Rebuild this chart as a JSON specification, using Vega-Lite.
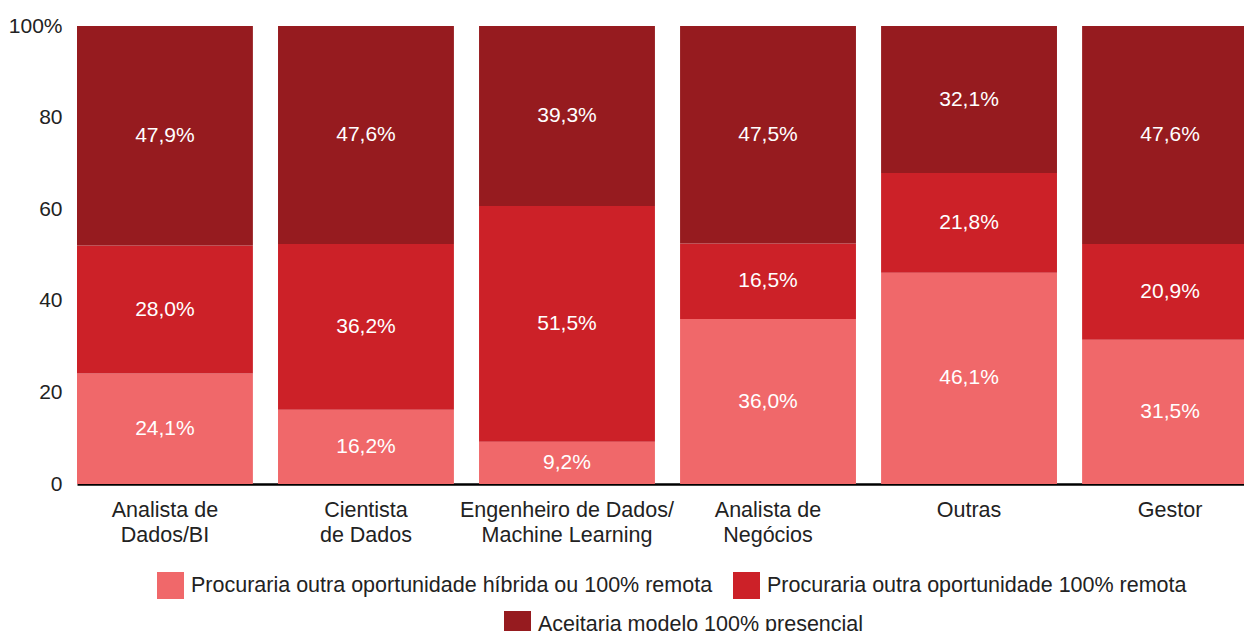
{
  "$schema": "https://vega.github.io/schema/vega-lite/v6.json",
  "width": 1167,
  "height": 458,
  "autosize": {"type": "none"},
  "padding": {"left": 77, "top": 26, "right": 0, "bottom": 147},
  "background": "white",
  "config": {
    "view": {"stroke": null},
    "font": "Liberation Sans"
  },
  "data": {
    "values": [
      {"cargo": "Analista de\nDados/BI", "serie": "Procuraria outra oportunidade híbrida ou 100% remota", "v": 24.1},
      {"cargo": "Analista de\nDados/BI", "serie": "Procuraria outra oportunidade 100% remota", "v": 28.0},
      {"cargo": "Analista de\nDados/BI", "serie": "Aceitaria modelo 100% presencial", "v": 47.9},
      {"cargo": "Cientista\nde Dados", "serie": "Procuraria outra oportunidade híbrida ou 100% remota", "v": 16.2},
      {"cargo": "Cientista\nde Dados", "serie": "Procuraria outra oportunidade 100% remota", "v": 36.2},
      {"cargo": "Cientista\nde Dados", "serie": "Aceitaria modelo 100% presencial", "v": 47.6},
      {"cargo": "Engenheiro de Dados/\nMachine Learning", "serie": "Procuraria outra oportunidade híbrida ou 100% remota", "v": 9.2},
      {"cargo": "Engenheiro de Dados/\nMachine Learning", "serie": "Procuraria outra oportunidade 100% remota", "v": 51.5},
      {"cargo": "Engenheiro de Dados/\nMachine Learning", "serie": "Aceitaria modelo 100% presencial", "v": 39.3},
      {"cargo": "Analista de\nNegócios", "serie": "Procuraria outra oportunidade híbrida ou 100% remota", "v": 36.0},
      {"cargo": "Analista de\nNegócios", "serie": "Procuraria outra oportunidade 100% remota", "v": 16.5},
      {"cargo": "Analista de\nNegócios", "serie": "Aceitaria modelo 100% presencial", "v": 47.5},
      {"cargo": "Outras", "serie": "Procuraria outra oportunidade híbrida ou 100% remota", "v": 46.1},
      {"cargo": "Outras", "serie": "Procuraria outra oportunidade 100% remota", "v": 21.8},
      {"cargo": "Outras", "serie": "Aceitaria modelo 100% presencial", "v": 32.1},
      {"cargo": "Gestor", "serie": "Procuraria outra oportunidade híbrida ou 100% remota", "v": 31.5},
      {"cargo": "Gestor", "serie": "Procuraria outra oportunidade 100% remota", "v": 20.9},
      {"cargo": "Gestor", "serie": "Aceitaria modelo 100% presencial", "v": 47.6}
    ]
  },
  "transform": [
    {"stack": "v", "groupby": ["cargo"], "sort": [{"field": "serie", "order": "descending"}], "as": ["y0", "y1"]},
    {"calculate": "(datum.y0 + datum.y1) / 2", "as": "ymid"},
    {"calculate": "replace(format(datum.v, '.1f'), '.', ',') + '%'", "as": "rotulo"}
  ],
  "encoding": {
    "x": {
      "field": "cargo",
      "type": "nominal",
      "sort": ["Analista de\nDados/BI", "Cientista\nde Dados", "Engenheiro de Dados/\nMachine Learning", "Analista de\nNegócios", "Outras", "Gestor"],
      "scale": {"range": [0, 1181], "paddingInner": 0.125, "paddingOuter": 0},
      "axis": {
        "title": null,
        "labelAngle": 0,
        "ticks": false,
        "domainColor": "#000000",
        "domainWidth": 2.5,
        "labelFontSize": 21.5,
        "labelColor": "#222222",
        "labelPadding": 15,
        "labelLineHeight": 25,
        "labelLimit": 400,
        "labelExpr": "split(datum.value, '\\n')"
      }
    }
  },
  "layer": [
    {
      "transform": [{"filter": "datum.serie != 'Aceitaria modelo 100% presencial'"}],
      "mark": "bar",
      "encoding": {
        "y": {
          "field": "y0",
          "type": "quantitative",
          "scale": {"domain": [0, 100]},
          "axis": {
            "title": null,
            "values": [0, 20, 40, 60, 80, 100],
            "labelExpr": "datum.value == 100 ? '100%' : datum.label",
            "domain": false,
            "ticks": false,
            "grid": false,
            "labelFontSize": 21,
            "labelColor": "#222222",
            "labelPadding": 15
          }
        },
        "y2": {"field": "y1"},
        "color": {
          "field": "serie",
          "type": "nominal",
          "scale": {
            "domain": ["Procuraria outra oportunidade híbrida ou 100% remota", "Procuraria outra oportunidade 100% remota"],
            "range": ["#F0686A", "#CC2128"]
          },
          "legend": {
            "orient": "none",
            "legendX": 80,
            "legendY": 546,
            "direction": "horizontal",
            "title": null,
            "symbolType": "square",
            "symbolSize": 729,
            "symbolStrokeWidth": 0,
            "labelFontSize": 21.5,
            "labelColor": "#222222",
            "labelOffset": 7,
            "columnPadding": 20,
            "labelLimit": 600
          }
        }
      }
    },
    {
      "transform": [{"filter": "datum.serie == 'Aceitaria modelo 100% presencial'"}],
      "mark": "bar",
      "encoding": {
        "y": {"field": "y0", "type": "quantitative"},
        "y2": {"field": "y1"},
        "color": {
          "field": "serie",
          "type": "nominal",
          "scale": {"domain": ["Aceitaria modelo 100% presencial"], "range": ["#961B1F"]},
          "legend": {
            "orient": "none",
            "legendX": 427,
            "legendY": 585,
            "direction": "horizontal",
            "title": null,
            "symbolType": "square",
            "symbolSize": 729,
            "symbolStrokeWidth": 0,
            "labelFontSize": 21.5,
            "labelColor": "#222222",
            "labelOffset": 7,
            "labelLimit": 600
          }
        }
      }
    },
    {
      "mark": {"type": "text", "color": "white", "fontSize": 21},
      "encoding": {
        "y": {"field": "ymid", "type": "quantitative"},
        "text": {"field": "rotulo"}
      }
    }
  ],
  "resolve": {"scale": {"color": "independent"}}
}
